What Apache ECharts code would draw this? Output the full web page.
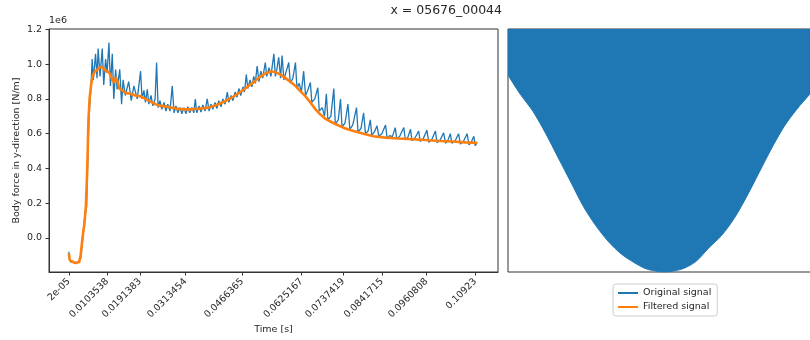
<!DOCTYPE html>
<html>
<head>
<meta charset="utf-8">
<script src="https://cdn.jsdelivr.net/npm/echarts@6/dist/echarts.min.js"></script>
<style>
  html, body { margin: 0; padding: 0; background: #fff; }
  #chart { width: 810px; height: 340px; }
</style>
</head>
<body>
<div id="chart"></div>
<script>
// force values are in units of 1e6 N/m (offset label "1e6" on the axis)
const timeOrig = [
  0.00002, 0.0002, 0.0006, 0.0016, 0.0026, 0.0032, 0.0037, 0.0042, 0.0048, 0.0050,
  0.0053, 0.0056, 0.0060, 0.0063, 0.0066, 0.0072, 0.0076, 0.0079, 0.0084, 0.0090,
  0.0094, 0.0099, 0.0103, 0.0108, 0.0112, 0.0117, 0.0121, 0.0126, 0.0130, 0.0137,
  0.0142, 0.0146, 0.0152, 0.0161, 0.0168, 0.0175, 0.0184, 0.0193, 0.0197, 0.0202,
  0.0206, 0.0211, 0.0215, 0.0221, 0.0226, 0.0232, 0.0236, 0.0240, 0.0245, 0.0250,
  0.0256, 0.0261, 0.0266, 0.0272, 0.0278, 0.0283, 0.0288, 0.0293, 0.0299, 0.0304,
  0.0309, 0.0315, 0.0320, 0.0325, 0.0331, 0.0336, 0.0340, 0.0344, 0.0350, 0.0355,
  0.0360, 0.0366, 0.0372, 0.0377, 0.0382, 0.0387, 0.0393, 0.0398, 0.0403, 0.0409,
  0.0414, 0.0420, 0.0426, 0.0430, 0.0436, 0.0441, 0.0447, 0.0452, 0.0457, 0.0462,
  0.0468, 0.0472, 0.0477, 0.0481, 0.0487, 0.0492, 0.0497, 0.0501, 0.0506, 0.0511,
  0.0516, 0.0521, 0.0528, 0.0532, 0.0538, 0.0543, 0.0551, 0.0555, 0.0559, 0.0564,
  0.0569, 0.0573, 0.0578, 0.0583, 0.0591, 0.0595, 0.0602, 0.0609, 0.0613, 0.0619,
  0.0625, 0.0631, 0.0636, 0.0642, 0.0649, 0.0653, 0.0661, 0.0669, 0.0673, 0.0681,
  0.0687, 0.0692, 0.0696, 0.0704, 0.0712, 0.0716, 0.0724, 0.0730, 0.0734, 0.0742,
  0.0750, 0.0755, 0.0763, 0.0773, 0.0777, 0.0785, 0.0792, 0.0797, 0.0804, 0.0810,
  0.0814, 0.0821, 0.0828, 0.0833, 0.0841, 0.0851, 0.0855, 0.0863, 0.0869, 0.0877,
  0.0881, 0.0889, 0.0900, 0.0904, 0.0911, 0.0918, 0.0922, 0.0930, 0.0940, 0.0944,
  0.0952, 0.0962, 0.0967, 0.0975, 0.0985, 0.0989, 0.0997, 0.1007, 0.1012, 0.1018,
  0.1025, 0.1029, 0.1037, 0.1047, 0.1052, 0.1060, 0.1070, 0.1075, 0.1081, 0.1088,
  0.1092, 0.1097
];
const forceOrig = [
  -0.08, -0.12, -0.14, -0.145, -0.14, -0.12, -0.02, 0.10, 0.18, 0.35,
  0.60, 0.75, 0.88, 1.03, 0.91, 1.06, 0.92, 1.09, 0.93, 1.09,
  0.88, 1.03, 0.95, 1.125, 0.875, 1.06, 0.80, 0.97, 0.855, 0.97,
  0.77, 0.91, 0.82, 0.90, 0.79, 0.875, 0.80, 0.96, 0.80, 0.85,
  0.78, 0.855, 0.77, 0.82, 0.76, 0.80, 1.01, 0.75, 0.79, 0.74,
  0.78, 0.73, 0.77, 0.73, 0.875, 0.72, 0.76, 0.72, 0.75, 0.715,
  0.75, 0.715, 0.755, 0.72, 0.75, 0.72, 0.80, 0.72, 0.76, 0.725,
  0.765, 0.73, 0.80, 0.73, 0.77, 0.74, 0.78, 0.745, 0.79, 0.755,
  0.80, 0.77, 0.84, 0.78, 0.82, 0.79, 0.84, 0.81, 0.86, 0.82,
  0.87, 0.84, 0.94, 0.86, 0.91, 0.87, 0.93, 0.89, 0.99, 0.90,
  0.96, 0.92, 1.01, 0.93, 0.98, 0.93, 1.06, 0.93, 0.97, 1.04,
  0.92, 1.05, 0.91, 0.95, 1.01, 0.89, 0.92, 1.01, 0.86, 0.89,
  0.84, 0.96, 0.82, 0.85, 0.895, 0.78, 0.80, 0.865, 0.73, 0.75,
  0.70, 0.83, 0.68, 0.70, 0.86, 0.655, 0.68, 0.80, 0.64, 0.66,
  0.77, 0.625, 0.65, 0.75, 0.61, 0.63, 0.72, 0.60, 0.615, 0.68,
  0.59, 0.61, 0.645, 0.585, 0.60, 0.65, 0.575, 0.59, 0.58, 0.635,
  0.57, 0.585, 0.635, 0.565, 0.58, 0.625, 0.56, 0.575, 0.615, 0.555,
  0.57, 0.62, 0.55, 0.565, 0.615, 0.55, 0.56, 0.605, 0.545, 0.56,
  0.60, 0.545, 0.555, 0.60, 0.54, 0.555, 0.60, 0.535, 0.55, 0.585,
  0.53, 0.55
];

const timeFilt = [
  0.00002, 0.0003, 0.0008, 0.0018, 0.0028, 0.0032, 0.0037, 0.0042, 0.0046, 0.0049,
  0.0051, 0.0053, 0.0056, 0.0060, 0.0064, 0.0069, 0.0075, 0.0080, 0.0085, 0.0091,
  0.0096, 0.0101, 0.0107, 0.0112, 0.0117, 0.0121, 0.0127, 0.0131, 0.0136, 0.0144,
  0.0152, 0.0166, 0.0179, 0.0193, 0.0206, 0.0220, 0.0233, 0.0247, 0.0265, 0.0287,
  0.0308, 0.0327, 0.0354, 0.0375, 0.0397, 0.0418, 0.0440, 0.0461, 0.0480, 0.0499,
  0.0515, 0.0531, 0.0542, 0.0555, 0.0569, 0.0582, 0.0595, 0.0609, 0.0622, 0.0636,
  0.0649, 0.0663, 0.0676, 0.0690, 0.0703, 0.0722, 0.0743, 0.0765, 0.0792, 0.0818,
  0.0851, 0.0886, 0.0926, 0.0966, 0.0998, 0.1031, 0.1066, 0.1097
];
const forceFilt = [
  -0.09, -0.13, -0.14, -0.145, -0.14, -0.10, 0.00, 0.08, 0.18, 0.35,
  0.50, 0.68, 0.80, 0.88, 0.93, 0.955, 0.965, 0.97, 0.985, 0.98,
  0.97, 0.96, 0.955, 0.94, 0.91, 0.895, 0.925, 0.90, 0.86, 0.85,
  0.835, 0.83, 0.82, 0.815, 0.80, 0.785, 0.77, 0.76, 0.755, 0.745,
  0.74, 0.74, 0.745, 0.75, 0.765, 0.785, 0.81, 0.84, 0.87, 0.90,
  0.93, 0.95, 0.958, 0.955, 0.94, 0.92, 0.90, 0.875, 0.845, 0.815,
  0.78, 0.74, 0.71, 0.685, 0.67, 0.65, 0.63, 0.615, 0.60, 0.585,
  0.577, 0.572, 0.568, 0.562, 0.558, 0.555, 0.55, 0.547
];

const xTickValues = [0.00002, 0.0103538, 0.0191383, 0.0313454, 0.0466365, 0.0625167,
  0.0737419, 0.0841715, 0.0960808, 0.10923];
const xTickLabels = ['2e-05', '0.0103538', '0.0191383', '0.0313454', '0.0466365', '0.0625167',
  '0.0737419', '0.0841715', '0.0960808', '0.10923'];
const yTickValues = [0, 0.2, 0.4, 0.6, 0.8, 1.0, 1.2];

// right panel: lower edge of the dense original signal band (filled up to the top)
const rightX = [0, 4, 8, 12, 16, 20, 24, 28, 32, 36, 40, 44, 48, 50,
  52, 56, 60, 64, 68, 72, 76, 80, 84, 88, 92, 96, 100];
const rightLow = [0.81, 0.73, 0.66, 0.57, 0.47, 0.37, 0.27, 0.19, 0.125, 0.075, 0.04, 0.013, 0.002, 0,
  0.002, 0.015, 0.045, 0.10, 0.15, 0.22, 0.31, 0.41, 0.51, 0.60, 0.67, 0.73, 0.79];

const BLUE = '#1f77b4';
const ORANGE = '#ff7f0e';
const FONT = 'DejaVu Sans';
const TXT = '#262626';
const EDGE = '#333';

const zip = (a, b) => a.map((v, i) => [v, b[i]]);

function tickLabel(v) {
  let best = 0;
  xTickValues.forEach((t, i) => {
    if (Math.abs(t - v) < Math.abs(xTickValues[best] - v)) best = i;
  });
  return xTickLabels[best];
}

const chart = echarts.init(document.getElementById('chart'), null, { renderer: 'canvas' });

chart.setOption({
  animation: false,
  backgroundColor: '#fff',
  textStyle: { fontFamily: FONT },
  grid: [
    { left: 49, top: 29, width: 449, height: 243, show: true, borderColor: EDGE, borderWidth: 1,
      backgroundColor: 'transparent', outerBoundsMode: 'none' },
    { left: 508, top: 29, width: 314, height: 243, show: true, borderColor: EDGE, borderWidth: 1,
      backgroundColor: 'transparent', outerBoundsMode: 'none' }
  ],
  graphic: [
    { type: 'text', x: 502, y: 4, style: { text: 'x = 05676_00044', fontSize: 12.5,
      fontFamily: FONT, fill: TXT, align: 'right' } },
    { type: 'text', x: 49, y: 16, style: { text: '1e6', fontSize: 9.5, fontFamily: FONT, fill: TXT } }
  ],
  legend: {
    data: ['Original signal', 'Filtered signal'],
    orient: 'vertical',
    left: 613,
    top: 284,
    padding: [4, 6, 4, 4],
    itemGap: 4,
    itemWidth: 20,
    itemHeight: 11,
    borderColor: '#ccc',
    borderWidth: 1,
    borderRadius: 3,
    backgroundColor: '#fff',
    itemStyle: { color: 'transparent', borderColor: 'transparent', borderWidth: 0 },
    textStyle: { fontSize: 9.5, color: TXT, fontFamily: FONT }
  },
  xAxis: [
    {
      gridIndex: 0, type: 'value', min: -0.0053, max: 0.1153,
      name: 'Time [s]', nameLocation: 'middle', nameGap: 53, nameMoveOverlap: false,
      nameTextStyle: { fontSize: 9.5, color: TXT, fontFamily: FONT },
      axisLine: { show: true, onZero: false, lineStyle: { color: EDGE } },
      axisTick: { show: true, length: 3.5, customValues: xTickValues, lineStyle: { color: EDGE } },
      axisLabel: { customValues: xTickValues, rotate: 45, margin: 8, fontSize: 9.5, color: TXT,
        fontFamily: FONT, formatter: tickLabel },
      splitLine: { show: false }
    },
    {
      gridIndex: 1, type: 'value', min: 0, max: 100,
      axisLine: { show: false }, axisTick: { show: false }, axisLabel: { show: false },
      splitLine: { show: false }
    }
  ],
  yAxis: [
    {
      gridIndex: 0, type: 'value', min: -0.197, max: 1.203,
      name: 'Body force in y-direction [N/m]', nameLocation: 'middle', nameGap: 27,
      nameMoveOverlap: false,
      nameTextStyle: { fontSize: 9.5, color: TXT, fontFamily: FONT },
      axisLine: { show: true, onZero: false, lineStyle: { color: EDGE } },
      axisTick: { show: true, length: 3.5, customValues: yTickValues, lineStyle: { color: EDGE } },
      axisLabel: { customValues: yTickValues, margin: 7, fontSize: 9.5, color: TXT, fontFamily: FONT,
        formatter: v => v.toFixed(1) },
      splitLine: { show: false }
    },
    {
      gridIndex: 1, type: 'value', min: 0, max: 1,
      axisLine: { show: false }, axisTick: { show: false }, axisLabel: { show: false },
      splitLine: { show: false }
    }
  ],
  series: [
    {
      name: 'Original signal', type: 'line', xAxisIndex: 0, yAxisIndex: 0,
      data: zip(timeOrig, forceOrig), symbol: 'none', smooth: false,
      lineStyle: { color: BLUE, width: 1.3 }, itemStyle: { color: BLUE }
    },
    {
      name: 'Filtered signal', type: 'line', xAxisIndex: 0, yAxisIndex: 0,
      data: zip(timeFilt, forceFilt), symbol: 'none', smooth: false,
      lineStyle: { color: ORANGE, width: 2.6 }, itemStyle: { color: ORANGE }
    },
    {
      name: 'Original signal', type: 'line', xAxisIndex: 1, yAxisIndex: 1,
      data: zip(rightX, rightLow), symbol: 'none', smooth: 0.3,
      lineStyle: { color: BLUE, width: 1 }, itemStyle: { color: BLUE },
      areaStyle: { origin: 'end', color: BLUE, opacity: 1 }
    }
  ]
});
</script>
</body>
</html>
